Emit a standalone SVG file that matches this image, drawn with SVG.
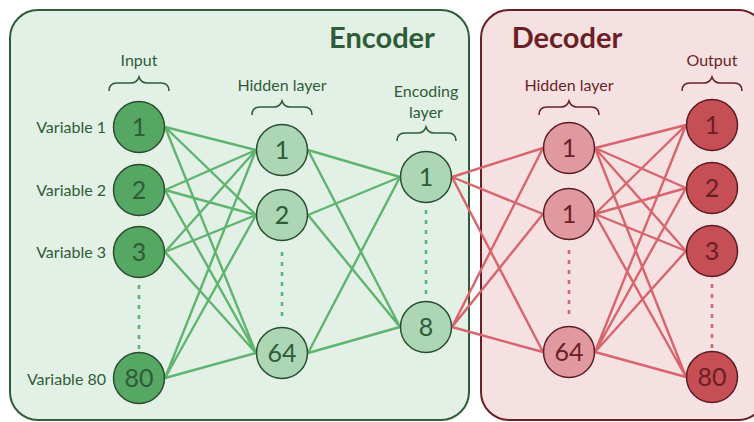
<svg xmlns="http://www.w3.org/2000/svg" width="754" height="422" viewBox="0 0 754 422">
<style>
.lbl{font-family:Lato,"Open Sans",sans-serif;font-size:16px;}
.g{fill:#2f5c37;}
.r{fill:#6b1f25;}
.num{font-family:Lato,"Open Sans",sans-serif;font-size:25px;text-anchor:middle;}
.title{font-family:Lato,"Open Sans",sans-serif;font-size:29px;font-weight:bold;}
.brace{fill:none;stroke-width:1.6;}
.gl{stroke:#5fb470;stroke-width:2.4;fill:none;}
.rl{stroke:#d8646d;stroke-width:2.4;fill:none;}
.dot{stroke-width:2.6;stroke-dasharray:4 6;fill:none;}
.nIn{fill:#56a764;stroke:#2a4d2f;stroke-width:1.5;}
.nH{fill:#acd6b4;stroke:#2a4d2f;stroke-width:1.5;}
.nD{fill:#e0999e;stroke:#5c1d22;stroke-width:1.5;}
.nO{fill:#c64e55;stroke:#5c1d22;stroke-width:1.5;}
</style>
<rect x="0" y="0" width="754" height="422" fill="#ffffff"/>
<g id="encoder-box">
<rect x="10" y="10" width="459" height="410" rx="28" fill="#e3f0e5" stroke="#2e5e37" stroke-width="2"/>
<text class="title g" x="382" y="48" text-anchor="middle">Encoder</text>
</g>
<g id="decoder-box">
<rect x="481" y="10" width="285" height="410" rx="28" fill="#f5e1e2" stroke="#6b1f25" stroke-width="2"/>
<text class="title r" x="567" y="48" text-anchor="middle">Decoder</text>
</g>
<g id="labels">
<text class="lbl g" x="139" y="66" text-anchor="middle">Input</text>
<path class="brace" stroke="#2f5c37" d="M109,91 Q109,83 117,83 L131,83 Q137,83 139,77 Q141,83 147,83 L161,83 Q169,83 169,91"/>
<text class="lbl g" x="282" y="91" text-anchor="middle">Hidden layer</text>
<path class="brace" stroke="#2f5c37" d="M252,115 Q252,107 260,107 L274,107 Q280,107 282,101 Q284,107 290,107 L304,107 Q312,107 312,115"/>
<text class="lbl g" x="426" y="97" text-anchor="middle">Encoding</text>
<text class="lbl g" x="426" y="118" text-anchor="middle">layer</text>
<path class="brace" stroke="#2f5c37" d="M397,141 Q397,133 405,133 L418,133 Q424,133 426,127 Q428,133 434,133 L448,133 Q456,133 456,141"/>
<text class="lbl r" x="569" y="91" text-anchor="middle">Hidden layer</text>
<path class="brace" stroke="#6b1f25" d="M539,115 Q539,107 547,107 L561,107 Q567,107 569,101 Q571,107 577,107 L591,107 Q599,107 599,115"/>
<text class="lbl r" x="712" y="66" text-anchor="middle">Output</text>
<path class="brace" stroke="#6b1f25" d="M682,91 Q682,83 690,83 L704,83 Q710,83 712,77 Q714,83 720,83 L734,83 Q742,83 742,91"/>
<text class="lbl g" x="106" y="133" text-anchor="end">Variable 1</text>
<text class="lbl g" x="106" y="196" text-anchor="end">Variable 2</text>
<text class="lbl g" x="106" y="258" text-anchor="end">Variable 3</text>
<text class="lbl g" x="106" y="385" text-anchor="end">Variable 80</text>
</g>
<g id="connectors">
<path class="gl" d="M165,127 L256,150 M165,127 L256,215 M165,127 L256,353
M165,190 L256,150 M165,190 L256,215 M165,190 L256,353
M165,252 L256,150 M165,252 L256,215 M165,252 L256,353
M165,378 L256,150 M165,378 L256,215 M165,378 L256,353
M308,150 L400,177 M308,150 L400,327
M308,215 L400,177 M308,215 L400,327
M308,353 L400,177 M308,353 L400,327"/>
<path class="rl" d="M452,177 L543,148 M452,177 L543,214 M452,177 L543,352
M452,327 L543,148 M452,327 L543,214 M452,327 L543,352
M595,148 L686,125 M595,148 L686,188 M595,148 L686,251 M595,148 L686,377
M595,214 L686,125 M595,214 L686,188 M595,214 L686,251 M595,214 L686,377
M595,352 L686,125 M595,352 L686,188 M595,352 L686,251 M595,352 L686,377"/>
<path class="dot" stroke="#5fb470" d="M139,285 L139,350 M282,252 L282,322 M426,210 L426,298"/>
<path class="dot" stroke="#d8646d" d="M569,250 L569,320 M712,284 L712,348"/>
</g>
<g id="in1"><circle class="nIn" cx="139" cy="127" r="25.5"/><text class="num g" x="139" y="136">1</text></g>
<g id="in2"><circle class="nIn" cx="139" cy="190" r="25.5"/><text class="num g" x="139" y="199">2</text></g>
<g id="in3"><circle class="nIn" cx="139" cy="252" r="25.5"/><text class="num g" x="139" y="261">3</text></g>
<g id="in80"><circle class="nIn" cx="139" cy="378" r="25.5"/><text class="num g" x="139" y="387">80</text></g>
<g id="h1"><circle class="nH" cx="282" cy="150" r="25.5"/><text class="num g" x="282" y="159">1</text></g>
<g id="h2"><circle class="nH" cx="282" cy="215" r="25.5"/><text class="num g" x="282" y="224">2</text></g>
<g id="h64"><circle class="nH" cx="282" cy="353" r="25.5"/><text class="num g" x="282" y="362">64</text></g>
<g id="e1"><circle class="nH" cx="426" cy="177" r="25.5"/><text class="num g" x="426" y="186">1</text></g>
<g id="e8"><circle class="nH" cx="426" cy="327" r="25.5"/><text class="num g" x="426" y="336">8</text></g>
<g id="d1"><circle class="nD" cx="569" cy="148" r="25.5"/><text class="num r" x="569" y="157">1</text></g>
<g id="d2"><circle class="nD" cx="569" cy="214" r="25.5"/><text class="num r" x="569" y="223">1</text></g>
<g id="d64"><circle class="nD" cx="569" cy="352" r="25.5"/><text class="num r" x="569" y="361">64</text></g>
<g id="o1"><circle class="nO" cx="712" cy="125" r="25.5"/><text class="num r" x="712" y="134">1</text></g>
<g id="o2"><circle class="nO" cx="712" cy="188" r="25.5"/><text class="num r" x="712" y="197">2</text></g>
<g id="o3"><circle class="nO" cx="712" cy="251" r="25.5"/><text class="num r" x="712" y="260">3</text></g>
<g id="o80"><circle class="nO" cx="712" cy="377" r="25.5"/><text class="num r" x="712" y="386">80</text></g>
</svg>
